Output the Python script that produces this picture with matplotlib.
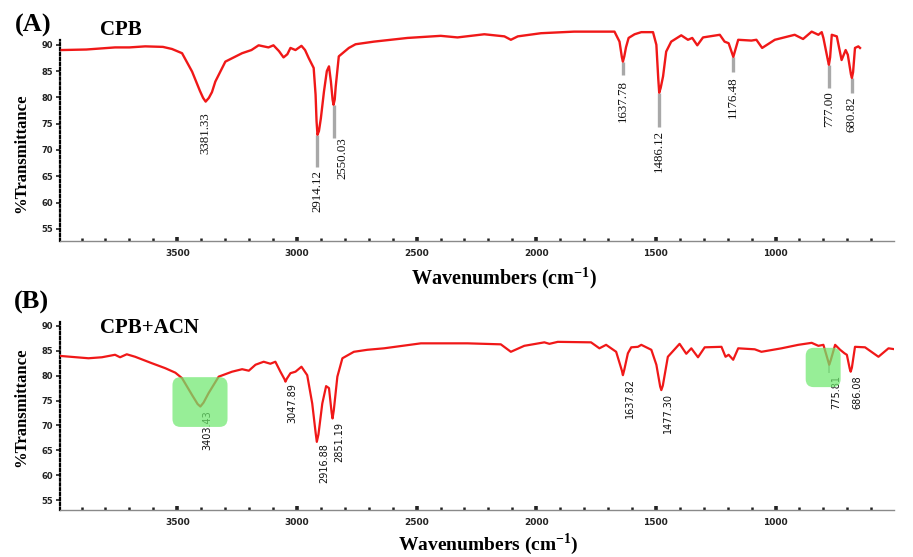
import matplotlib
matplotlib.use("Agg")
import matplotlib.pyplot as plt
from matplotlib.patches import FancyBboxPatch
from matplotlib.ticker import FixedLocator, MultipleLocator
from matplotlib.transforms import IdentityTransform, offset_copy

plt.rcParams['mathtext.fontset'] = 'custom'
plt.rcParams['mathtext.rm'] = 'Liberation Serif'
plt.rcParams['mathtext.bf'] = 'Liberation Serif:bold'

# ---- (A) CPB spectrum: wavenumber (cm-1) and %T ----
cpb_wn = [3983, 3880, 3760, 3700, 3634, 3560, 3522, 3480, 3438, 3405, 3392,
          3381.33, 3368, 3355, 3341, 3299, 3229, 3190, 3160, 3119, 3098, 3075,
          3056, 3040, 3027, 3006, 2981, 2966, 2951, 2930, 2922, 2918, 2914.12,
          2908, 2900, 2887, 2875, 2866, 2858, 2851, 2847, 2842, 2838, 2825,
          2783, 2755, 2678, 2538, 2399, 2329, 2217, 2133, 2106, 2077, 1980,
          1842, 1673, 1652, 1642, 1637.78, 1632, 1625, 1614, 1589, 1561, 1512,
          1498, 1490, 1486.12, 1480, 1470, 1457, 1436, 1394, 1366, 1348, 1327,
          1303, 1233, 1213, 1196, 1176.48, 1156, 1101, 1080, 1056, 1003, 920,
          885, 849, 821, 807, 800, 781, 777.00, 772, 765, 744, 724, 707, 698,
          685, 680.82, 676, 668, 654, 647]
cpb_t = [89.0, 89.1, 89.5, 89.5, 89.7, 89.6, 89.2, 88.4, 84.9, 81.2, 79.9,
         79.2, 79.9, 81.0, 83.0, 86.8, 88.4, 89.0, 89.9, 89.5, 89.9, 88.8,
         87.6, 88.2, 89.4, 89.0, 89.8, 89.0, 87.5, 85.6, 80.5, 75.5, 72.9,
         73.6, 76.0, 81.1, 85.0, 85.9, 83.0, 79.6, 78.6, 79.6, 82.0, 87.8,
         89.4, 90.1, 90.6, 91.3, 91.7, 91.4, 92.0, 91.6, 90.95, 91.6, 92.2,
         92.5, 92.5, 90.6, 87.6, 86.8, 87.8, 89.5, 91.3, 92.0, 92.4, 92.4,
         90.0, 83.5, 80.9, 81.8, 84.0, 88.7, 90.6, 91.8, 90.95, 91.3, 89.9,
         91.4, 91.9, 90.6, 90.3, 87.7, 90.95, 90.8, 90.95, 89.4, 90.95, 91.9,
         91.1, 92.5, 91.9, 92.4, 91.3, 87.0, 86.2, 87.6, 91.9, 91.6, 87.1,
         89.0, 88.1, 84.4, 83.7, 84.8, 89.4, 89.7, 89.4]

cpb_peak_wn = [3381.33, 2914.12, 2847.0, 1637.78, 1486.12, 1176.48, 777.00, 680.82]
cpb_peak_t = [79.2, 72.9, 78.6, 86.8, 80.9, 87.7, 86.2, 83.7]
cpb_peak_labels = ['3381.33', '2914.12', '2550.03', '1637.78', '1486.12',
                   '1176.48', '777.00', '680.82']

# ---- (B) CPB+ACN spectrum ----
mix_wn = [3997, 3871, 3815, 3760, 3739, 3711, 3676, 3606, 3550, 3508, 3480,
          3438, 3415, 3403.43, 3390, 3369, 3327, 3271, 3229, 3201, 3173, 3139,
          3111, 3090, 3069, 3052, 3047.89, 3042, 3027, 3006, 2981, 2957, 2936,
          2922, 2916.88, 2910, 2894, 2878, 2866, 2855, 2851.19, 2846, 2831,
          2810, 2762, 2706, 2636, 2482, 2287, 2148, 2106, 2050, 1966, 1945,
          1910, 1771, 1736, 1708, 1666, 1642, 1637.82, 1632, 1617, 1603, 1575,
          1561, 1519, 1498, 1482, 1477.30, 1471, 1450, 1401, 1373, 1352, 1324,
          1296, 1226, 1209, 1196, 1177, 1156, 1087, 1059, 975, 905, 849, 821,
          800, 780, 775.81, 770, 751, 730, 712, 702, 690, 686.08, 681, 668,
          626, 570, 528, 500]
mix_t = [84.0, 83.5, 83.7, 84.2, 83.7, 84.3, 83.8, 82.5, 81.5, 80.6, 79.5,
         76.1, 74.3, 73.8, 74.6, 76.5, 79.8, 80.8, 81.3, 81.0, 82.2, 82.8,
         82.4, 82.8, 80.8, 79.3, 78.8, 79.4, 80.5, 80.8, 81.8, 80.1, 74.4,
         68.6, 66.7, 68.2, 74.4, 77.9, 77.5, 72.6, 71.4, 73.0, 79.8,
         83.5, 84.8, 85.2, 85.5, 86.5, 86.5, 86.3, 84.8, 86.0, 86.7, 86.4,
         86.8, 86.7, 85.5, 86.2, 84.8, 81.0, 80.1, 81.2, 84.5, 85.7, 85.8,
         86.2, 85.2, 82.2, 77.8, 77.1, 78.0, 83.8, 86.4, 84.4, 85.5, 83.7,
         85.7, 85.8, 83.8, 84.2, 83.2, 85.5, 85.3, 84.8, 85.5, 86.2, 86.6, 86.0,
         86.2, 82.9, 82.2, 83.0, 86.2, 85.2, 84.5, 84.2, 81.4, 80.8, 81.6, 85.8,
         85.7, 83.8, 85.5, 85.3]

mix_peak_wn = [3403.43, 3047.89, 2916.88, 2851.19, 1637.82, 1477.30, 775.81, 686.08]
mix_peak_labels = ['3403.43', '3047.89', '2916.88', '2851.19', '1637.82',
                   '1477.30', '775.81', '686.08']

# highlighted regions (wavenumber span, %T span)
mix_boxes = [((3290, 3520), (69.7, 79.7)), ((728, 874), (77.7, 85.6))]

y_ticks = [55, 60, 65, 70, 75, 80, 85, 90]
x_ticks = [3500, 3000, 2500, 2000, 1500, 1000]

# label layout: %T where each rotated label starts, and where its leader ends
cpb_label_top = [77.1, 66.2, 72.5, 83.3, 73.8, 83.9, 81.1, 80.1]
cpb_leader_end = [None, 66.8, 72.3, 84.3, 74.4, 84.9, 81.8, 80.9]
cpb_label_dx = [0, 0, 9, 0, 0, 0, 0, 0]
mix_label_top = [73.1, 78.5, 66.5, 70.7, 79.5, 76.5, 80.1, 80.1]

W, H = 913, 557
fig = plt.figure(figsize=(W / 100, H / 100), dpi=100)
ax_a = fig.add_axes([60 / W, (H - 241) / H, 834 / W, 212 / H])
ax_b = fig.add_axes([60 / W, (H - 510) / H, 834 / W, 199 / H])

SERIF = 'Liberation Serif'


def style_axes(ax, ybottom, ytop_axis):
    ax.set_xlim(3990, 505)
    ax.set_ylim(ybottom, 93)
    for side in ('top', 'right'):
        ax.spines[side].set_visible(False)
    ax.spines['left'].set_linestyle((0, (1, 1.2)))
    ax.spines['left'].set_linewidth(1.6)
    ax.spines['left'].set_bounds(ybottom, ytop_axis)
    ax.spines['bottom'].set_color('#8a8a8a')
    ax.spines['bottom'].set_linewidth(1.0)
    ax.xaxis.set_major_locator(FixedLocator(x_ticks))
    ax.xaxis.set_minor_locator(MultipleLocator(100))
    ax.yaxis.set_major_locator(FixedLocator(y_ticks))
    ax.tick_params(axis='x', which='major', direction='in', length=3, width=2.6,
                   color='#222222', pad=6, labelsize=6.5)
    ax.tick_params(axis='x', which='minor', direction='in', length=2, width=1.8,
                   color='#222222')
    ax.tick_params(axis='y', which='major', direction='out', length=3, width=1.2,
                   color='#222222', pad=2, labelsize=6)
    for lab in ax.get_xticklabels() + ax.get_yticklabels():
        lab.set_fontweight('bold')
        lab.set_color('#222222')


style_axes(ax_a, 52.7, 91.0)
style_axes(ax_b, 53.0, 90.8)

red = '#f01818'
ax_a.plot(cpb_wn, cpb_t, color=red, lw=1.7, solid_joinstyle='round', zorder=3)
ax_b.plot(mix_wn, mix_t, color=red, lw=1.6, solid_joinstyle='round', zorder=3)

# (A) peak leaders and labels
for wn, t, lab, top, end, dx in zip(cpb_peak_wn, cpb_peak_t, cpb_peak_labels,
                                     cpb_label_top, cpb_leader_end, cpb_label_dx):
    if end is not None:
        ax_a.vlines(wn, end, t, color='#a8a8a8', lw=2.4, zorder=2)
    tr = offset_copy(ax_a.transData, fig=fig, x=dx, y=0, units='dots')
    ax_a.text(wn, top, lab, transform=tr, rotation=90, ha='center', va='top',
              fontsize=9.3, family=SERIF, color='#111111', zorder=4)

# (B) peak labels
tr_b = offset_copy(ax_b.transData, fig=fig, x=7, y=0, units='dots')
for wn, lab, top in zip(mix_peak_wn, mix_peak_labels, mix_label_top):
    ax_b.text(wn, top, lab, transform=tr_b, rotation=90, ha='center', va='top',
              fontsize=7, family=['Liberation Sans Narrow', 'DejaVu Sans'],
              color='#111111', zorder=4)
ax_b.vlines(775.81, 80.5, 82.2, color='#a8a8a8', lw=1.2, zorder=2)

# green highlight boxes, drawn in pixel space so corners stay round
for (x0, x1), (y0, y1) in mix_boxes:
    (px0, py0) = ax_b.transData.transform((x1, y0))
    (px1, py1) = ax_b.transData.transform((x0, y1))
    box = FancyBboxPatch((px0, py0), px1 - px0, py1 - py0,
                         boxstyle='round,pad=0,rounding_size=8',
                         transform=IdentityTransform(), facecolor='#6fe86f',
                         edgecolor='none', alpha=0.72, zorder=10)
    fig.add_artist(box)

# panel letters, sample names, axis titles
fig.text(33 / W, 1 - 25 / H, '(A)', fontsize=19, fontweight='bold', family=SERIF,
         ha='center', va='center')
fig.text(100 / W, 1 - 30 / H, 'CPB', fontsize=15, fontweight='bold', family=SERIF,
         ha='left', va='center')
fig.text(31 / W, 1 - 302 / H, '(B)', fontsize=19, fontweight='bold', family=SERIF,
         ha='center', va='center')
fig.text(100 / W, 1 - 328 / H, 'CPB+ACN', fontsize=15, fontweight='bold',
         family=SERIF, ha='left', va='center')

for yc in (153, 407):
    fig.text(21 / W, 1 - yc / H, '%Transmittance', rotation=90, fontsize=12,
             fontweight='bold', family=SERIF, ha='center', va='center')

xlabel = r'Wavenumbers (cm$^{\mathbf{-1}}$)'
fig.text(504 / W, 1 - 278 / H, xlabel, fontsize=14.5, fontweight='bold',
         family=SERIF, ha='center', va='center')
fig.text(488 / W, 1 - 544 / H, xlabel, fontsize=14, fontweight='bold',
         family=SERIF, ha='center', va='center')

fig.savefig('out.png', dpi=100)
